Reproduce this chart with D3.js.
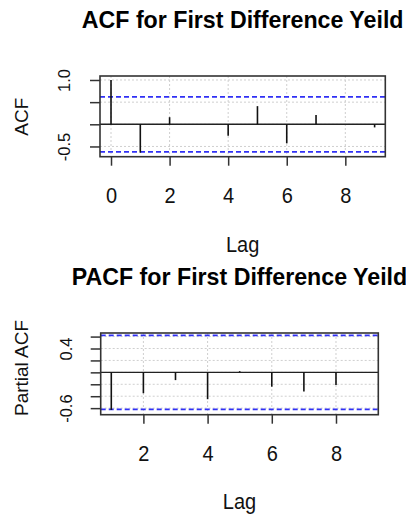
<!DOCTYPE html>
<html><head><meta charset="utf-8">
<script src="https://cdn.jsdelivr.net/npm/d3@7"></script>
<style>
html,body{margin:0;padding:0;background:#fff;}
svg{display:block;font-family:"Liberation Sans",Arial,sans-serif;}
</style></head>
<body>
<svg id="c" width="406" height="515"></svg>
<script>
// ---- data ----
const acfLags = [0,1,2,3,4,5,6,7,8,9];
const acfValues = [1.0,-0.64,0.16,0.0,-0.26,0.41,-0.43,0.21,0.0,-0.07];
const pacfLags = [1,2,3,4,5,6,7,8,9];
const pacfValues = [-0.63,-0.35,-0.13,-0.45,0.02,-0.24,-0.32,-0.21,0.0];
const ciBound = 0.62;
const acfXTicks = [0,2,4,6,8];
const acfYTicks = [-0.5,0,0.5,1.0];
const acfYTickLabels = ["-0.5","","","1.0"];
const pacfXTicks = [2,4,6,8];
const pacfYTicks = [-0.6,-0.4,-0.2,0,0.2,0.4,0.6];
const pacfYTickLabels = ["-0.6","","","","","0.4",""];
const titles = ["ACF for First Difference Yeild","PACF for First Difference Yeild"];
const yLabels = ["ACF","Partial ACF"];
const xLabel = "Lag";

const svg = d3.select("#c");

function panel(cfg){
  const g = svg.append("g");
  const x = d3.scaleLinear().domain(cfg.xDomain).range([cfg.left,cfg.right]);
  const y = d3.scaleLinear().domain(cfg.yDomain).range([cfg.bottom,cfg.top]);
  // grid
  g.selectAll(".gx").data(cfg.xTicks).join("line")
    .attr("x1",d=>x(d)).attr("x2",d=>x(d)).attr("y1",cfg.top).attr("y2",cfg.bottom)
    .attr("stroke","#cfcfcf").attr("stroke-width",1).attr("stroke-dasharray","2,2");
  g.selectAll(".gy").data(cfg.yTicks).join("line")
    .attr("x1",cfg.left).attr("x2",cfg.right).attr("y1",d=>y(d)).attr("y2",d=>y(d))
    .attr("stroke","#cfcfcf").attr("stroke-width",1).attr("stroke-dasharray","2,2");
  // CI lines
  [ciBound,-ciBound].forEach(v=>{
    g.append("line").attr("x1",cfg.left).attr("x2",cfg.right).attr("y1",y(v)).attr("y2",y(v))
      .attr("stroke","#3030f5").attr("stroke-width",1.7).attr("stroke-dasharray","5,3");
  });
  // zero line
  g.append("line").attr("x1",cfg.left).attr("x2",cfg.right).attr("y1",y(0)).attr("y2",y(0))
    .attr("stroke","#222").attr("stroke-width",1.4);
  // bars
  g.selectAll(".bar").data(cfg.lags).join("line")
    .attr("x1",(d)=>x(d)).attr("x2",(d)=>x(d))
    .attr("y1",y(0)).attr("y2",(d,i)=>y(cfg.values[i]))
    .attr("stroke","#111").attr("stroke-width",1.6);
  // box
  g.append("rect").attr("x",cfg.left).attr("y",cfg.top)
    .attr("width",cfg.right-cfg.left).attr("height",cfg.bottom-cfg.top)
    .attr("fill","none").attr("stroke","#333").attr("stroke-width",1.6);
  // x axis
  const xa = g.append("g").attr("transform",`translate(0,${cfg.bottom})`)
    .call(d3.axisBottom(x).tickValues(cfg.xTicks).tickSize(9).tickPadding(4).tickFormat(d3.format("d")));
  xa.select(".domain").remove();
  xa.selectAll(".tick line").attr("stroke","#333").attr("stroke-width",1.5);
  xa.selectAll(".tick text").attr("font-size",20).attr("fill","#111")
    .attr("font-family","'Liberation Sans',Arial,sans-serif")
    .attr("y",null).attr("dy",null)
    .attr("transform",`translate(0,${cfg.xTickBaseline-cfg.bottom}) scale(1,1.1)`);
  // y axis
  const ya = g.append("g").attr("transform",`translate(${cfg.left},0)`)
    .call(d3.axisLeft(y).tickValues(cfg.yTicks).tickSize(10).tickFormat((d,i)=>cfg.yTickLabels[i]));
  ya.select(".domain").remove();
  ya.selectAll(".tick line").attr("stroke","#333").attr("stroke-width",1.5);
  ya.selectAll(".tick text").attr("font-size",16.5).attr("fill","#111")
    .attr("font-family","'Liberation Sans',Arial,sans-serif")
    .attr("x",null).attr("dy",null).attr("text-anchor","middle")
    .attr("transform",`translate(${cfg.yTickBaseline-cfg.left},0) rotate(-90)`);
  // title
  svg.append("text").attr("x",(cfg.left+cfg.right)/2).attr("y",cfg.titleY)
    .attr("text-anchor","middle").attr("font-weight","bold").attr("font-size",23.2)
    .attr("fill","#000").text(cfg.title);
  // x label
  svg.append("text")
    .attr("transform",`translate(${(cfg.left+cfg.right)/2},${cfg.xLabelY}) scale(1,1.1)`)
    .attr("text-anchor","middle").attr("font-size",20).attr("fill","#111").text(xLabel);
  // y label
  svg.append("text").attr("transform",`translate(${cfg.yLabelX},${cfg.yLabelCY}) rotate(-90)`)
    .attr("text-anchor","middle").attr("font-size",19).attr("fill","#111").text(cfg.yLabel);
}

panel({
  left:100,right:385.3,top:76,bottom:156.7,
  xDomain:[-0.376,9.365], yDomain:[-0.731,1.09],
  lags:acfLags, values:acfValues,
  xTicks:acfXTicks, yTicks:acfYTicks, yTickLabels:acfYTickLabels,
  xTickBaseline:202.5, yTickBaseline:70,
  title:titles[0], titleY:27.5, xLabelY:251.5,
  yLabel:yLabels[0], yLabelX:28.3, yLabelCY:116.7
});
panel({
  left:100.7,right:378.3,top:333,bottom:414.7,
  xDomain:[0.67,9.318], yDomain:[-0.71,0.66],
  lags:pacfLags, values:pacfValues,
  xTicks:pacfXTicks, yTicks:pacfYTicks, yTickLabels:pacfYTickLabels,
  xTickBaseline:460.7, yTickBaseline:71.7,
  title:titles[1], titleY:285, xLabelY:509,
  yLabel:yLabels[1], yLabelX:28.3, yLabelCY:368
});
</script>
</body></html>
